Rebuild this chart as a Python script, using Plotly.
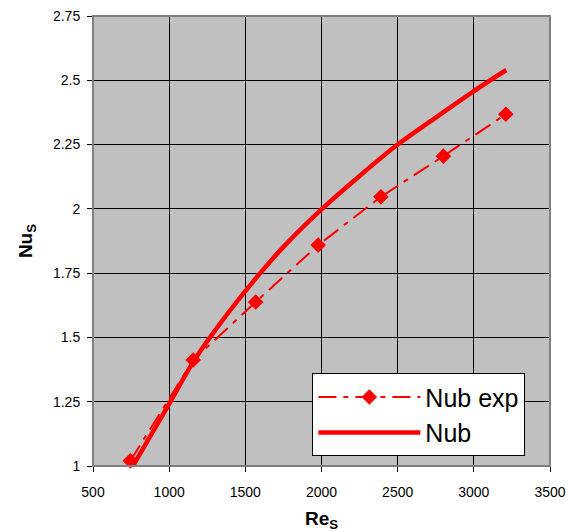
import plotly.graph_objects as go

# Experimental data (Nub exp)
re_exp = [745, 1158, 1568, 1978, 2390, 2800, 3210]
nu_exp = [1.02, 1.412, 1.638, 1.859, 2.047, 2.205, 2.368]

# Correlation curve (Nub)
re_th = [752, 1000, 1158, 1274, 1500, 1750, 2000, 2250, 2500, 2750, 3000, 3213]
nu_th = [0.99, 1.242, 1.405, 1.505, 1.68, 1.852, 1.998, 2.128, 2.25, 2.355, 2.458, 2.54]

x_ticks = [500, 1000, 1500, 2000, 2500, 3000, 3500]
x_ticktext = ["500", "1000", "1500", "2000", "2500", "3000", "3500"]
y_ticks = [1, 1.25, 1.5, 1.75, 2, 2.25, 2.5, 2.75]
y_ticktext = ["1", "1.25", "1.5", "1.75", "2", "2.25", "2.5", "2.75"]

FONT = "Liberation Sans, Arial, sans-serif"

fig = go.Figure()
fig.add_trace(go.Scatter(
    x=re_exp, y=nu_exp, name="Nub exp", mode="lines+markers",
    line=dict(color="#FF0000", width=2, dash="18px,7px,5px,7px"),
    marker=dict(symbol="diamond", size=12, color="#FF0000"),
    cliponaxis=False,
))
fig.add_trace(go.Scatter(
    x=re_th, y=nu_th, name="Nub", mode="lines",
    line=dict(color="#FF0000", width=4.5, shape="spline", smoothing=0.8),
))

axis_common = dict(
    showgrid=True, gridcolor="#000000", gridwidth=1,
    showline=True, linecolor="#000000", linewidth=1,
    ticks="outside", ticklen=5, tickcolor="#000000", tickwidth=1,
    tickfont=dict(family=FONT, size=14, color="#000000"),
    zeroline=False, mirror=False, automargin=False,
)

fig.update_layout(
    width=568, height=532,
    margin=dict(l=93, r=18, t=16, b=66),
    paper_bgcolor="#FFFFFF", plot_bgcolor="#C0C0C0",
    font=dict(family=FONT, color="#000000"),
    xaxis=dict(range=[500, 3500], tickvals=x_ticks, ticktext=x_ticktext,
               ticklabelstandoff=8,
               title=dict(text="<b>Re<sub>S</sub></b>", font=dict(size=19), standoff=16),
               **axis_common),
    yaxis=dict(range=[1, 2.75], tickvals=y_ticks, ticktext=y_ticktext,
               ticklabelstandoff=4,
               title=dict(text="<b>Nu<sub>S</sub></b>", font=dict(size=19), standoff=15),
               **axis_common),
    legend=dict(
        x=0.48, y=0.206, xanchor="left", yanchor="top",
        bgcolor="#FFFFFF", bordercolor="#000000", borderwidth=1,
        font=dict(family=FONT, size=25, color="#000000"),
        itemwidth=102, tracegroupgap=0,
    ),
    showlegend=True,
)

# plot area border (gray frame like the reference)
fig.add_shape(type="rect", xref="paper", yref="paper", x0=0, y0=0, x1=1, y1=1,
              line=dict(color="#808080", width=2), layer="above")

fig.write_html("out.html",
               config={"displayModeBar": False},
               post_script="document.body.style.margin='0';document.body.style.overflow='hidden';")
